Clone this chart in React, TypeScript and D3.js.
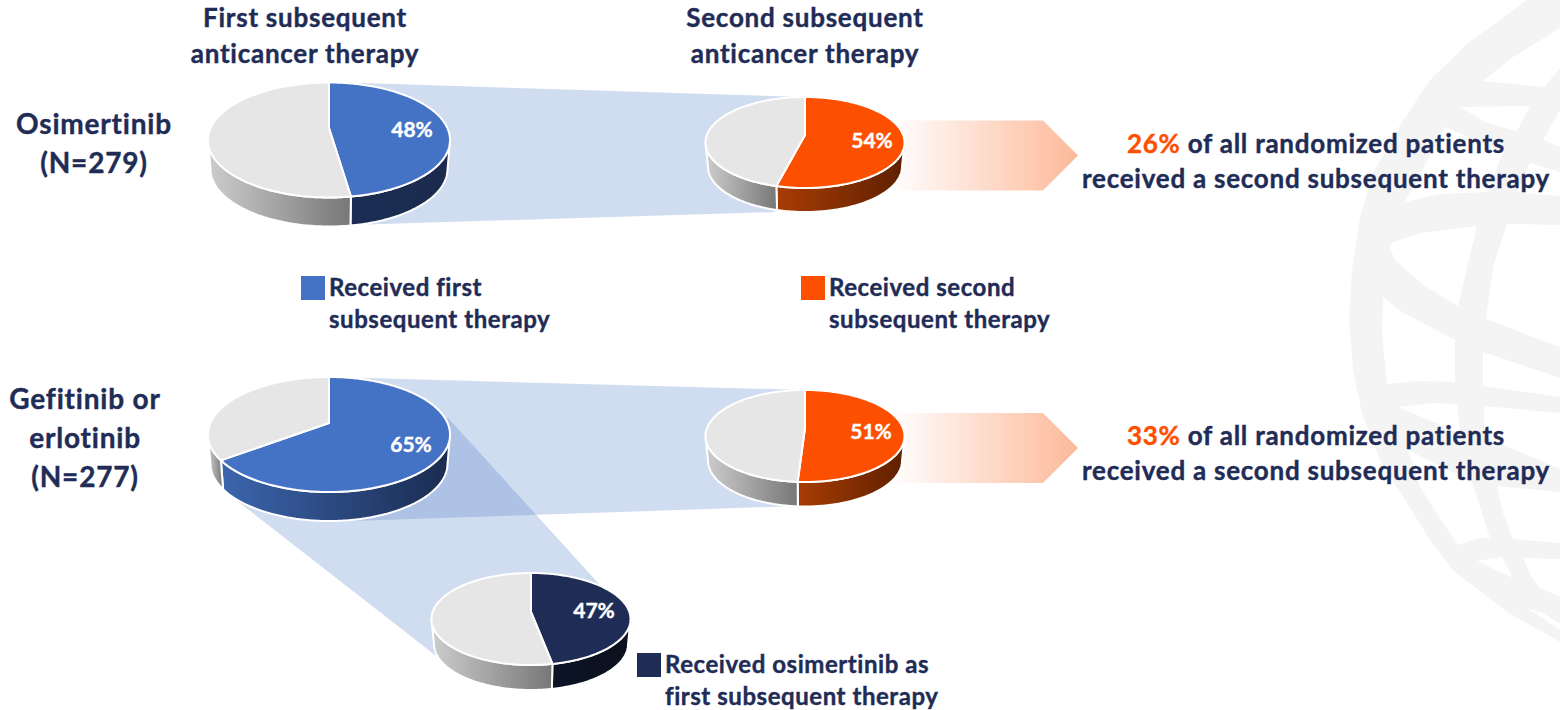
import React from "react";
import * as d3 from "d3";

const W = 1560, H = 710;
const NAVY = "#1f2c56", ORANGE = "#fc5000", BLUE = "#4472c4", GREY = "#e6e6e6";

const pieValues = [47.6, 54, 65, 51, 47];
const pieNames = ["osi-first", "osi-second", "gef-first", "gef-second", "gef-osi"];
const pieFills = [BLUE, ORANGE, BLUE, ORANGE, NAVY];
const wallFrom = ["#1b2d54", "#a83c04", "#3c66ae", "#a83c04", "#0c1426"];
const wallTo = ["#1b2b4f", "#5e2000", "#1a2b50", "#5e2000", "#0b101c"];
const pieBoxes = [
  { cx: 329, cy: 140, rx: 121, ry: 57.5, apex: 128, depth: 29, lx: 412, ly: 137 },
  { cx: 805, cy: 142.5, rx: 99.5, ry: 45.5, apex: 135, depth: 24, lx: 872, ly: 148 },
  { cx: 329, cy: 434.5, rx: 121, ry: 57.5, apex: 423, depth: 29, lx: 411, ly: 452 },
  { cx: 805, cy: 436, rx: 99.5, ry: 46, apex: 428, depth: 24.5, lx: 871, ly: 439 },
  { cx: 531, cy: 619, rx: 99.5, ry: 46, apex: 612, depth: 25, lx: 594, ly: 618 },
];

const connectors = [
  [[329, 82], [805, 97], [775, 212], [350, 225]],
  [[329, 377], [805, 390], [797, 506], [350, 521]],
  [[448, 418], [600, 585], [435, 655], [222, 489]],
];
const arrowRows = [120.5, 413];

const legendItems = [
  { x: 301, y: 276, fill: BLUE, lines: ["Received first", "subsequent therapy"] },
  { x: 801, y: 276, fill: ORANGE, lines: ["Received second", "subsequent therapy"] },
  { x: 637, y: 653, fill: NAVY, lines: ["Received osimertinib as", "first subsequent therapy"] },
];
const headers = [
  { x: 305, lines: ["First subsequent", "anticancer therapy"] },
  { x: 805, lines: ["Second subsequent", "anticancer therapy"] },
];
const armLabels = [
  { x: 94, y: 134, lines: ["Osimertinib", "(N=279)"] },
  { x: 85, y: 409, lines: ["Gefitinib or", "erlotinib", "(N=277)"] },
];
const outcomes = [
  { y: 153, pct: "26%" },
  { y: 445, pct: "33%" },
];

// globe watermark outline and openings
const globeOutline = [[1527,0],[1468,43],[1430,80],[1397,130],[1373,173],[1360,217],[1352,270],[1349,320],[1353,370],[1362,413],[1380,460],[1407,503],[1430,540],[1453,570],[1468,582],[1507,612],[1560,642],[1560,0]];
const globeHoles = [
  [[1483,81],[1513,57],[1560,28],[1560,68],[1544,87]],
  [[1460,107],[1530,106],[1517,131],[1487,123]],
  [[1445,127],[1503,152],[1488,192],[1440,194],[1405,202]],
  [[1543,140],[1560,110],[1560,147]],
  [[1530,163],[1560,172],[1560,196],[1517,192]],
  [[1390,248],[1393,242],[1420,233],[1477,226],[1458,306],[1423,285],[1395,260]],
  [[1507,224],[1560,225],[1560,347],[1486,319],[1493,267]],
  [[1383,297],[1402,312],[1455,340],[1455,382],[1417,381],[1387,384],[1382,333]],
  [[1483,352],[1560,378],[1560,397],[1483,386]],
  [[1398,407],[1433,403],[1457,404],[1460,433]],
  [[1484,406],[1560,413],[1560,469],[1484,437]],
  [[1408,450],[1472,482],[1490,538],[1480,538],[1458,545],[1440,518],[1420,487]],
  [[1497,486],[1560,492],[1560,543],[1513,539],[1503,513]],
  [[1477,561],[1502,557],[1513,578]],
  [[1523,558],[1560,559],[1560,597],[1540,588],[1532,578]],
  [[1527,608],[1543,613],[1560,624],[1560,630]],
];

const linePath = d3.line<number[]>().x(d => d[0]).y(d => d[1]);
const ring = (pts: number[][]) => linePath(pts) + "Z";

type Box = typeof pieBoxes[number];
// point on the ellipse reached by a ray leaving the off-centre apex
function rim(b: Box, a: number): number[] {
  const dx = Math.sin(a) * b.rx, dy = -Math.cos(a) * b.ry;
  const oy = b.apex - b.cy;
  const A = (dx * dx) / (b.rx * b.rx) + (dy * dy) / (b.ry * b.ry);
  const B = 2 * (oy * dy / (b.ry * b.ry));
  const C = oy * oy / (b.ry * b.ry) - 1;
  const t = (-B + Math.sqrt(B * B - 4 * A * C)) / (2 * A);
  return [b.cx + t * dx, b.apex + t * dy];
}
function samples(a0: number, a1: number) {
  const n = Math.max(2, Math.ceil((a1 - a0) / (Math.PI / 180)));
  return d3.range(n + 1).map(i => a0 + ((a1 - a0) * i) / n);
}

function Pie({ i }: { i: number }) {
  const b = pieBoxes[i];
  const arcs = d3.pie<number>().sort(null)([pieValues[i], 100 - pieValues[i]]);
  const shrink = (b.rx - 2.5) / b.rx;
  const parts = arcs.map((arc, k) => {
    const pts = samples(arc.startAngle, arc.endAngle).map(a => rim(b, a));
    const front = pts.filter(p => p[1] >= b.cy);
    const low = front.map(p => [b.cx + (p[0] - b.cx) * shrink, p[1] + b.depth]).reverse();
    return { k, top: ring([[b.cx, b.apex], ...pts]), wall: front.length > 1 ? ring([...front, ...low]) : null };
  });
  return (
    <g>
      {parts.map(p => p.wall && (
        <path key={"w" + p.k} d={p.wall} fill={`url(#${p.k === 0 ? "wall" + i : "wallGrey"})`} stroke="#fff" strokeWidth={2} strokeLinejoin="round" />
      ))}
      {parts.map(p => (
        <path key={"t" + p.k} d={p.top} fill={p.k === 0 ? pieFills[i] : GREY} stroke="#fff" strokeWidth={2} strokeLinejoin="round" />
      ))}
      <text x={b.lx} y={b.ly} textAnchor="middle" fontSize={21} fontWeight={700} fill="#fff" stroke="#fff" strokeWidth={0.4}>{Math.round(pieValues[i])}%</text>
    </g>
  );
}

export default function App() {
  const arrowW = 153, arrowH = 70, arrowX = 890, tip = 35;
  return (
    <svg width={W} height={H} viewBox={`0 0 ${W} ${H}`} style={{ position: "absolute", left: 0, top: 0, display: "block", background: "#fff" }} fontFamily="Lato, 'Open Sans', sans-serif">
      <defs>
        {pieNames.map((n, i) => (
          <linearGradient key={n} id={"wall" + i}>
            <stop offset="0" stopColor={wallFrom[i]} />
            <stop offset="1" stopColor={wallTo[i]} />
          </linearGradient>
        ))}
        <linearGradient id="wallGrey">
          <stop offset="0" stopColor="#cdcdcd" />
          <stop offset="1" stopColor="#777" />
        </linearGradient>
        <linearGradient id="arrowFade">
          <stop offset="0" stopColor="#fff" />
          <stop offset="1" stopColor="#fdb999" />
        </linearGradient>
      </defs>

      <path d={ring(globeOutline)} fill="#f4f4f4" />
      {globeHoles.map((h, i) => <path key={i} d={ring(h)} fill="#fff" />)}

      {connectors.map((c, i) => <path key={i} d={ring(c)} fill={BLUE} fillOpacity={0.25} />)}

      {arrowRows.map(y => (
        <path key={y} d={ring([[arrowX, y], [arrowX + arrowW, y], [arrowX + arrowW + tip, y + arrowH / 2], [arrowX + arrowW, y + arrowH], [arrowX, y + arrowH]])} fill="url(#arrowFade)" />
      ))}

      {pieValues.map((_, i) => <Pie key={pieNames[i]} i={i} />)}

      <g fill={NAVY} stroke={NAVY} strokeWidth={0.4} fontWeight={700}>
        {headers.map(h => h.lines.map((l, k) => (
          <text key={l + h.x} x={h.x} y={27 + k * 36} textAnchor="middle" fontSize={26} letterSpacing={0.75}>{l}</text>
        )))}
        {armLabels.map(a => a.lines.map((l, k) => (
          <text key={l} x={a.x} y={a.y + k * (a.lines.length > 2 ? 39 : 39)} textAnchor="middle" fontSize={28} letterSpacing={0.8}>{l}</text>
        )))}
        {legendItems.map(it => (
          <g key={it.x}>
            <rect x={it.x} y={it.y} width={24} height={24} fill={it.fill} stroke="none" />
            {it.lines.map((l, k) => (
              <text key={l} x={it.x + 28} y={it.y + 20 + k * 32} fontSize={24} letterSpacing={0.55}>{l}</text>
            ))}
          </g>
        ))}
        {outcomes.map(o => (
          <g key={o.pct} fontSize={26} letterSpacing={0.75}>
            <text x={1316} y={o.y} textAnchor="middle"><tspan fill={ORANGE} stroke={ORANGE}>{o.pct}</tspan> of all randomized patients</text>
            <text x={1316} y={o.y + 35} textAnchor="middle">received a second subsequent therapy</text>
          </g>
        ))}
      </g>
    </svg>
  );
}
